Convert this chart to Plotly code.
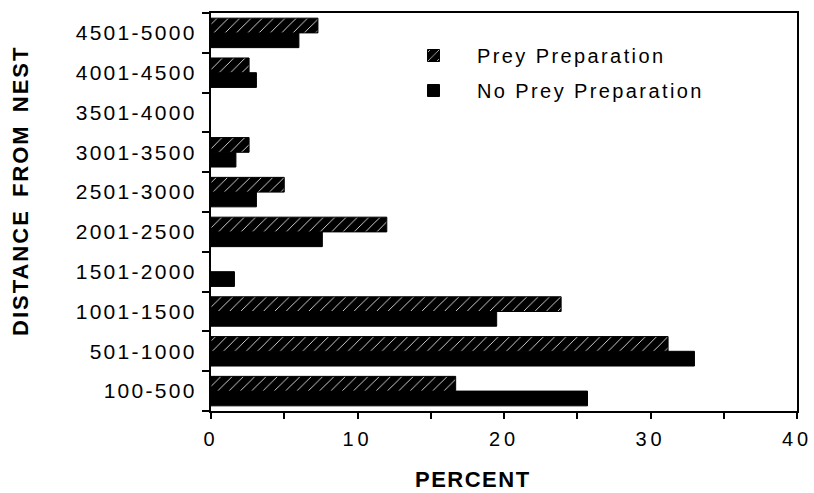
import plotly.graph_objects as go

categories = ["100-500", "501-1000", "1001-1500", "1501-2000", "2001-2500",
              "2501-3000", "3001-3500", "3501-4000", "4001-4500", "4501-5000"]
prey_prep = [16.7, 31.2, 23.9, 0, 12.0, 5.0, 2.6, 0, 2.6, 7.3]
no_prey_prep = [25.7, 33.0, 19.5, 1.6, 7.6, 3.1, 1.7, 0, 3.1, 6.0]
x_ticks = [0, 10, 20, 30, 40]
x_tick_labels = ["0", "10", "20", "30", "40"]

FONT = "Liberation Sans, Arial, Helvetica, sans-serif"


def spaced(text, ls, ws=0):
    return '<span style="letter-spacing:%spx;word-spacing:%spx">%s</span>' % (ls, ws, text)


def outline(values):
    # no outline for empty bars so nothing shows at zero
    return [1 if v > 0 else 0 for v in values]


fig = go.Figure()
fig.add_trace(go.Bar(
    y=categories, x=no_prey_prep, orientation="h",
    name=spaced("No Prey Preparation", 2.4),
    legendgroup="b", legendrank=2,
    marker=dict(color="black", line=dict(color="black", width=outline(no_prey_prep))),
))
fig.add_trace(go.Bar(
    y=categories, x=prey_prep, orientation="h",
    name=spaced("Prey Preparation", 2.4),
    legendgroup="a", legendrank=1,
    marker=dict(color="black", line=dict(color="black", width=outline(prey_prep)),
                pattern=dict(shape="/", fgcolor="white", bgcolor="black",
                             size=8, solidity=0.1, fillmode="replace")),
))

W = 814 - 211 - 17
H = 493 - 13 - 82


def px(x):
    return (x - 211) / W


def py(y):
    return (493 - 82 - y) / H


fig.update_layout(
    width=814, height=493,
    margin=dict(l=211, r=17, t=13, b=82, autoexpand=False),
    paper_bgcolor="white", plot_bgcolor="white",
    barmode="group", bargap=0.26, bargroupgap=0,
    font=dict(family=FONT, color="black", size=20),
    showlegend=True,
    legend=dict(x=px(390), y=py(36), xanchor="left", yanchor="top",
                traceorder="grouped", tracegroupgap=6,
                itemwidth=77,
                font=dict(family=FONT, size=20, color="black"),
                bgcolor="rgba(0,0,0,0)"),
    xaxis=dict(range=[0, 40], tickvals=x_ticks,
               ticktext=[spaced(t, 4) for t in x_tick_labels],
               ticks="outside", ticklen=6, tickwidth=2, tickcolor="black",
               ticklabelstandoff=3,
               minor=dict(dtick=5, ticks="outside", ticklen=6, tickwidth=2, tickcolor="black"),
               showline=True, linecolor="black", linewidth=2, mirror=True,
               showgrid=False, zeroline=False, automargin=False,
               tickfont=dict(family=FONT, size=20, color="black")),
    yaxis=dict(type="category", categoryorder="array", categoryarray=categories,
               tickvals=categories,
               ticktext=[spaced(c, 2.3) for c in categories],
               tickson="boundaries", ticks="outside", ticklen=7, tickwidth=2,
               tickcolor="black", ticklabelstandoff=8,
               showline=True, linecolor="black", linewidth=2, mirror=True,
               showgrid=False, zeroline=False, automargin=False,
               tickfont=dict(family=FONT, size=21, color="black")),
    annotations=[
        dict(text="<b>" + spaced("PERCENT", 1.5) + "</b>",
             x=px(473), y=py(479), xref="paper", yref="paper", showarrow=False,
             xanchor="center", yanchor="middle",
             font=dict(family=FONT, size=22, color="black")),
        dict(text="<b>" + spaced("DISTANCE FROM NEST", 2, 4) + "</b>",
             x=px(20), y=py(191), xref="paper", yref="paper", showarrow=False,
             xanchor="center", yanchor="middle", textangle=-90,
             font=dict(family=FONT, size=22, color="black")),
    ],
)

fig.write_html("out.html", config={"displayModeBar": False},
               post_script="document.body.style.margin='0';")
